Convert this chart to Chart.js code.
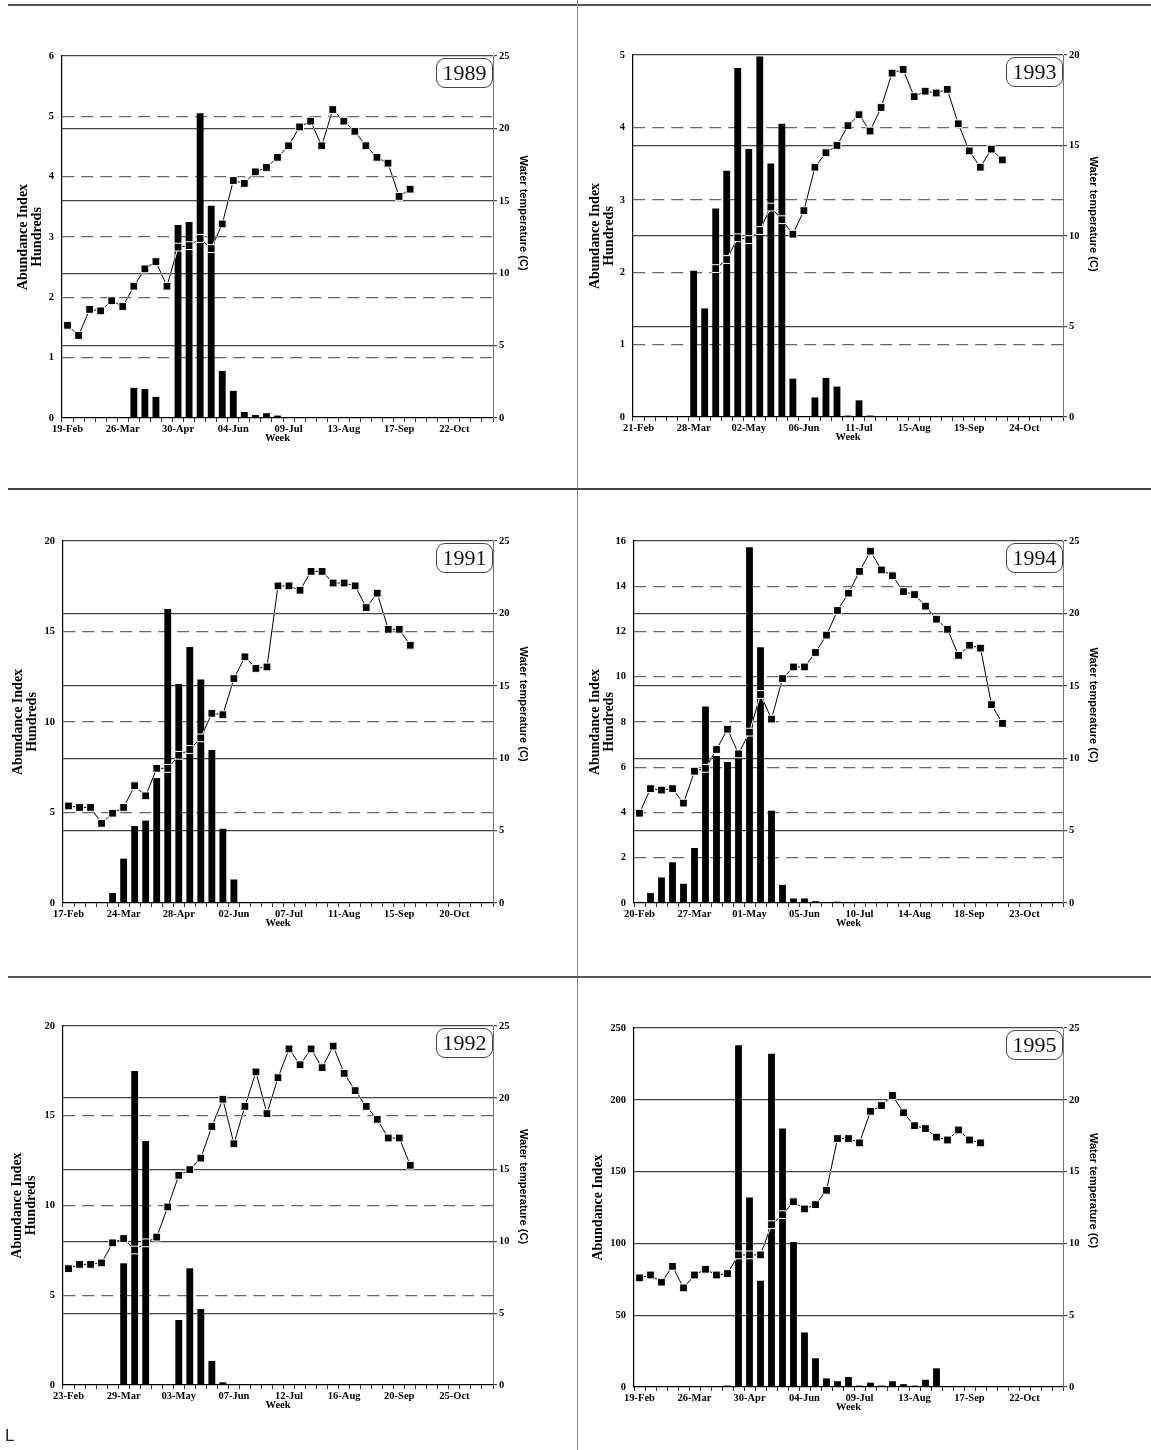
<!DOCTYPE html>
<html>
<head>
<meta charset="utf-8">
<script src="https://cdn.jsdelivr.net/npm/chart.js@4.4.1/dist/chart.umd.min.js"></script>
<style>
  body { margin: 0; background: #fff; }
  #page { position: relative; width: 1151px; height: 1450px; overflow: hidden; background: #fff; }
  .panel { position: absolute; }
  .year {
    position: absolute; box-sizing: border-box; width: 57px; height: 30px;
    border: 1.5px solid #444; border-radius: 9px; background: #fff;
    font: 22px 'Liberation Serif', 'DejaVu Serif', serif; color: #111;
    text-align: center; line-height: 27px; z-index: 4;
  }
  .rule { position: absolute; z-index: 5; }
  #stray { position: absolute; left: 5px; top: 1426px; font: 17px 'Liberation Sans', sans-serif; color: #222; }
</style>
</head>
<body>
<div id="page">
  <canvas id="c1989" class="panel" width="576" height="488" style="left:0;top:0"></canvas>
  <canvas id="c1993" class="panel" width="575" height="488" style="left:576px;top:0"></canvas>
  <canvas id="c1991" class="panel" width="576" height="487" style="left:0;top:488px"></canvas>
  <canvas id="c1994" class="panel" width="575" height="487" style="left:576px;top:488px"></canvas>
  <canvas id="c1992" class="panel" width="576" height="475" style="left:0;top:975px"></canvas>
  <canvas id="c1995" class="panel" width="575" height="475" style="left:576px;top:975px"></canvas>
  <div class="rule" style="left:8px;top:4px;width:1143px;height:2px;background:#555"></div>
  <div class="rule" style="left:577px;top:0;width:1px;height:1450px;background:#888"></div>
  <div class="rule" style="left:8px;top:488px;width:1143px;height:2px;background:#444"></div>
  <div class="rule" style="left:8px;top:976px;width:1143px;height:2px;background:#555"></div>
  <div id="stray">L</div>
</div>
<script>
// weekly sampling, 39 weeks per season
var weeks = [1,2,3,4,5,6,7,8,9,10,11,12,13,14,15,16,17,18,19,20,21,22,23,24,25,26,27,28,29,30,31,32,33,34,35,36,37,38,39];

// 1989
var ticks1989 = ['19-Feb','26-Mar','30-Apr','04-Jun','09-Jul','13-Aug','17-Sep','22-Oct'];
var abund1989 = [null,null,null,null,null,null,0.5,0.48,0.35,null,3.2,3.25,5.05,3.52,0.78,0.45,0.1,0.05,0.08,0.04,0.01];
var temp1989 = [6.4,5.7,7.5,7.4,8.1,7.7,9.1,10.3,10.8,9.1,11.8,11.9,12.4,11.7,13.4,16.4,16.2,17.0,17.3,18.0,18.8,20.1,20.5,18.8,21.3,20.5,19.8,18.8,18.0,17.6,15.3,15.8];

// 1993
var ticks1993 = ['21-Feb','28-Mar','02-May','06-Jun','11-Jul','15-Aug','19-Sep','24-Oct'];
var abund1993 = [null,null,null,null,null,2.02,1.5,2.88,3.4,4.82,3.7,4.98,3.5,4.05,0.53,null,0.27,0.54,0.42,0.02,0.23,0.02];
var temp1993 = [null,null,null,null,null,null,null,8.2,8.7,9.9,9.8,10.3,11.6,10.9,10.1,11.4,13.8,14.6,15.0,16.1,16.7,15.8,17.1,19.0,19.2,17.7,18.0,17.9,18.1,16.2,14.7,13.8,14.8,14.2];

// 1991
var ticks1991 = ['17-Feb','24-Mar','28-Apr','02-Jun','07-Jul','11-Aug','15-Sep','20-Oct'];
var abund1991 = [null,null,null,null,0.55,2.45,4.25,4.55,6.9,16.25,12.1,14.15,12.35,8.45,4.1,1.3,0.05,null,0.05];
var temp1991 = [6.7,6.6,6.6,5.5,6.2,6.6,8.1,7.4,9.3,9.3,10.2,10.6,11.4,13.1,13.0,15.5,17.0,16.2,16.3,21.9,21.9,21.6,22.9,22.9,22.1,22.1,21.9,20.4,21.4,18.9,18.9,17.8];

// 1994
var ticks1994 = ['20-Feb','27-Mar','01-May','05-Jun','10-Jul','14-Aug','18-Sep','23-Oct'];
var abund1994 = [0.05,0.44,1.13,1.8,0.85,2.43,8.68,6.5,6.23,6.67,15.72,11.3,4.08,0.8,0.2,0.2,0.08,0.04,0.06,null,0.03];
var temp1994 = [6.2,7.9,7.8,7.9,6.9,9.1,9.3,10.6,12.0,10.3,11.8,14.4,12.7,15.5,16.3,16.3,17.3,18.5,20.2,21.4,22.9,24.3,23.0,22.6,21.5,21.3,20.5,19.6,18.9,17.1,17.8,17.6,13.7,12.4];

// 1992
var ticks1992 = ['23-Feb','29-Mar','03-May','07-Jun','12-Jul','16-Aug','20-Sep','25-Oct'];
var abund1992 = [null,null,null,null,null,6.78,17.5,13.6,null,null,3.62,6.5,4.23,1.34,0.15];
var temp1992 = [8.1,8.4,8.4,8.5,9.9,10.2,9.4,9.9,10.3,12.4,14.6,15.0,15.8,18.0,19.9,16.8,19.4,21.8,18.9,21.4,23.4,22.3,23.4,22.1,23.6,21.7,20.5,19.4,18.5,17.2,17.2,15.3];

// 1995 (not in hundreds)
var ticks1995 = ['19-Feb','26-Mar','30-Apr','04-Jun','09-Jul','13-Aug','17-Sep','22-Oct'];
var abund1995 = [null,null,null,null,null,null,null,null,1,238,132,74,232,180,101,38,20,6,4,7,1,3,1,4,2,1,5,13];
var temp1995 = [7.6,7.8,7.3,8.4,6.9,7.8,8.2,7.8,7.9,9.2,9.2,9.2,11.3,12.0,12.9,12.4,12.7,13.7,17.3,17.3,17.0,19.2,19.6,20.3,19.1,18.2,18.0,17.4,17.2,17.9,17.2,17.0];

var SERIF = "'Liberation Serif', 'DejaVu Serif', serif";
var SANS = "'Liberation Sans', Arial, sans-serif";
var X_AXIS_H = 28;

// white background so the 'difference' line shows white over the bars
var whiteBg = {
	id: 'whiteBg',
	beforeDraw: function(chart){
		var c = chart.ctx;
		c.save();
		c.fillStyle = '#fff';
		c.fillRect(0, 0, chart.width, chart.height);
		c.restore();
	}
};
var blendLine = {
	id: 'blendLine',
	beforeDatasetDraw: function(chart, args){
		if (chart.data.datasets[args.index].blend){
			chart.ctx.save();
			chart.ctx.globalCompositeOperation = 'difference';
		}
	},
	afterDatasetDraw: function(chart, args){
		if (chart.data.datasets[args.index].blend){
			chart.ctx.restore();
		}
	}
};
// right axis title sits a bit above the middle of the plot in the original
var rightTitle = {
	id: 'rightTitle',
	afterDraw: function(chart, args, opts){
		var c = chart.ctx, a = chart.chartArea;
		c.save();
		c.translate(opts.x, (a.top + a.bottom) / 2 + opts.shift);
		c.rotate(Math.PI / 2);
		c.font = 'bold 11px ' + SANS;
		c.fillStyle = '#000';
		c.textAlign = 'center';
		c.textBaseline = 'middle';
		c.fillText('Water temperature (C)', 0, 0);
		c.restore();
	}
};

function addYearBox(spec){
	var box = document.createElement('div');
	box.className = 'year';
	box.textContent = spec.year;
	box.style.left = (spec.ox + spec.plot.r - 57) + 'px';
	box.style.top = (spec.oy + spec.plot.t + 2) + 'px';
	document.getElementById('page').appendChild(box);
}

function buildPanel(spec){
	var p = spec.plot;
	var rightBox = spec.rightTitleX + 6.6;
	var tickFont = {family: SERIF, size: 10.5, weight: 'bold'};
	var canvas = document.getElementById('c' + spec.year);
	new Chart(canvas, {
		type: 'bar',
		data: {
			labels: weeks,
			datasets: [
				{data: spec.abund, yAxisID: 'y', backgroundColor: '#000', barPercentage: 0.62, categoryPercentage: 1, order: 3},
				{type: 'line', data: spec.temp, yAxisID: 'yR', borderColor: '#fff', borderWidth: 1, pointRadius: 0, blend: true, order: 2},
				{type: 'line', data: spec.temp, yAxisID: 'yR', showLine: false, pointStyle: 'rect', pointRadius: 5.5,
					pointBackgroundColor: '#000', pointBorderColor: '#fff', pointBorderWidth: 1, order: 1}
			]
		},
		options: {
			responsive: false,
			animation: false,
			layout: {padding: {left: spec.titleL, right: canvas.width - rightBox, top: p.t, bottom: canvas.height - p.b - X_AXIS_H}},
			plugins: {
				legend: {display: false},
				tooltip: {enabled: false},
				rightTitle: {x: spec.rightTitleX, shift: spec.titleShift}
			},
			scales: {
				x: {
					ticks: {autoSkip: false, maxRotation: 0, minRotation: 0, padding: 1, color: '#000', font: tickFont,
						callback: function(v, i){ return i % 5 === 0 ? spec.ticks[i / 5] : ''; }},
					grid: {drawOnChartArea: false, drawTicks: true, tickLength: 4, color: '#333'},
					border: {color: '#000', width: 1.2},
					title: {display: true, text: 'Week', color: '#000', font: {family: SERIF, size: 10.5, weight: 'bold', lineHeight: 1.1}, padding: {top: 0, bottom: 2}},
					afterFit: function(s){ s.height = X_AXIS_H; }
				},
				y: {
					position: 'left', min: 0, max: spec.yMax,
					ticks: {stepSize: spec.yStep, padding: 8, color: '#000', font: tickFont},
					grid: {display: spec.dashed, drawTicks: false, lineWidth: 1.2,
						color: function(c){ return (c.tick.value === 0 || c.tick.value === spec.yMax) ? 'rgba(0,0,0,0)' : '#666'; }},
					border: {color: '#000', width: 1.2, dash: [12, 7]},
					title: {display: true, text: spec.leftTitle, color: '#000', font: {family: SERIF, size: 14, weight: 'bold', lineHeight: 1}, padding: 0},
					afterFit: function(s){ s.width = p.l - spec.titleL; }
				},
				yR: {
					position: 'right', min: 0, max: spec.tMax,
					ticks: {stepSize: 5, padding: 2, color: '#000', font: tickFont},
					grid: {drawOnChartArea: true, drawTicks: true, tickLength: 4, lineWidth: 1.2, tickColor: '#444',
						color: function(c){ return c.tick.value === 0 ? 'rgba(0,0,0,0)' : '#444'; }},
					border: {color: '#777', width: 1},
					afterFit: function(s){ s.width = rightBox - p.r; }
				}
			}
		},
		plugins: [whiteBg, blendLine, rightTitle]
	});
	addYearBox(spec);
}

var HUNDREDS = ['Abundance Index', 'Hundreds'];

buildPanel({year: '1989', ox: 0, oy: 0, plot: {l: 62, r: 493, t: 56, b: 418}, titleL: 16, rightTitleX: 523, titleShift: -24,
	yMax: 6, yStep: 1, tMax: 25, dashed: true, leftTitle: HUNDREDS, ticks: ticks1989, abund: abund1989, temp: temp1989});
buildPanel({year: '1993', ox: 576, oy: 0, plot: {l: 57, r: 487, t: 55, b: 417}, titleL: 12, rightTitleX: 517, titleShift: -22,
	yMax: 5, yStep: 1, tMax: 20, dashed: true, leftTitle: HUNDREDS, ticks: ticks1993, abund: abund1993, temp: temp1993});
buildPanel({year: '1991', ox: 0, oy: 488, plot: {l: 63, r: 493, t: 53, b: 415}, titleL: 11, rightTitleX: 523, titleShift: -18,
	yMax: 20, yStep: 5, tMax: 25, dashed: true, leftTitle: HUNDREDS, ticks: ticks1991, abund: abund1991, temp: temp1991});
buildPanel({year: '1994', ox: 576, oy: 488, plot: {l: 58, r: 487, t: 53, b: 415}, titleL: 12, rightTitleX: 517, titleShift: -17,
	yMax: 16, yStep: 2, tMax: 25, dashed: true, leftTitle: HUNDREDS, ticks: ticks1994, abund: abund1994, temp: temp1994});
buildPanel({year: '1992', ox: 0, oy: 975, plot: {l: 63, r: 493, t: 51, b: 410}, titleL: 10, rightTitleX: 523, titleShift: -19,
	yMax: 20, yStep: 5, tMax: 25, dashed: true, leftTitle: HUNDREDS, ticks: ticks1992, abund: abund1992, temp: temp1992});
buildPanel({year: '1995', ox: 576, oy: 975, plot: {l: 58, r: 487, t: 53, b: 412}, titleL: 15, rightTitleX: 517, titleShift: -17,
	yMax: 250, yStep: 50, tMax: 25, dashed: false, leftTitle: 'Abundance Index', ticks: ticks1995, abund: abund1995, temp: temp1995});
</script>
</body>
</html>
